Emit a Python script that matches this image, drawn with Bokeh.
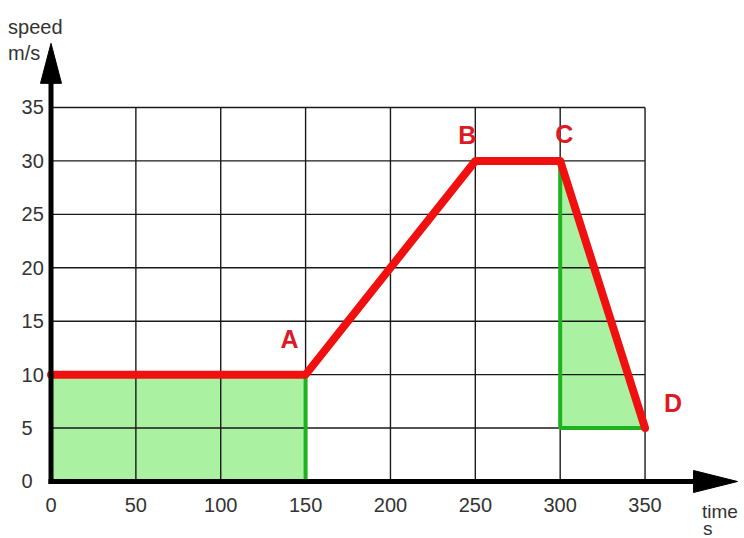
from bokeh.plotting import figure
from bokeh.models import Range1d
from bokeh.embed import file_html
from bokeh.resources import INLINE
from bokeh.core.properties import value

# ---------------- data ----------------
time_s = [0, 150, 250, 300, 350]
speed_ms = [10, 10, 30, 30, 5]
point_names = ["A", "B", "C", "D"]          # labels of points 1..4
x_ticks = [0, 50, 100, 150, 200, 250, 300, 350]
y_ticks = [0, 5, 10, 15, 20, 25, 30, 35]
x_tick_labels = ["0", "50", "100", "150", "200", "250", "300", "350"]
y_tick_labels = ["0", "5", "10", "15", "20", "25", "30", "35"]
x_title = ["time", "s"]
y_title = ["speed", "m/s"]

# ---------------- layout ----------------
W, H = 744, 538
X_START, X_END = -29.76, 408.6
Y_START, Y_END = -5.334, 45.01
SX = W / (X_END - X_START)      # px per second
SY = H / (Y_END - Y_START)      # px per m/s

FONT = value("Liberation Sans")
RED = "#f01010"
LABEL_RED = "#dc1a24"
GREEN_FILL = "#aaf2a2"
GREEN_LINE = "#1db31d"
TICK_COLOR = "#333333"

p = figure(width=W, height=H, output_backend="svg", toolbar_location=None,
           x_axis_location=None, y_axis_location=None, title=None,
           x_range=Range1d(X_START, X_END), y_range=Range1d(Y_START, Y_END),
           min_border=0, min_border_left=0, min_border_right=0,
           min_border_top=0, min_border_bottom=0)
p.outline_line_color = None
p.background_fill_color = "white"
p.border_fill_color = "white"
for g in p.grid:
    g.visible = False
p.xgrid.grid_line_color = None
p.ygrid.grid_line_color = None

xmax, ymax = x_ticks[-1], y_ticks[-1]

# ---------------- shaded areas ----------------
# rectangle under the first (constant speed) segment
rect_x = [time_s[0], time_s[0], time_s[1], time_s[1]]
rect_y = [0, speed_ms[0], speed_ms[1], 0]
p.patch(rect_x, rect_y, fill_color=GREEN_FILL, line_color=None)
# triangle under the deceleration segment
tri_x = [time_s[3], time_s[4], time_s[3]]
tri_y = [speed_ms[3], speed_ms[4], speed_ms[4]]
p.patch(tri_x, tri_y, fill_color=GREEN_FILL, line_color=None)

# ---------------- grid ----------------
p.segment(x0=x_ticks[1:], y0=[0] * (len(x_ticks) - 1),
          x1=x_ticks[1:], y1=[ymax] * (len(x_ticks) - 1),
          line_color="#1a1a1a", line_width=1.4)
p.segment(x0=[0] * (len(y_ticks) - 1), y0=y_ticks[1:],
          x1=[xmax] * (len(y_ticks) - 1), y1=y_ticks[1:],
          line_color="#1a1a1a", line_width=1.4)

# ---------------- green edges ----------------
p.line([time_s[1], time_s[1]], [0, speed_ms[1]], line_color=GREEN_LINE, line_width=4)
p.line([time_s[3], time_s[3], time_s[4]], [speed_ms[3], speed_ms[4], speed_ms[4]],
       line_color=GREEN_LINE, line_width=4)

# ---------------- speed-time line ----------------
p.line(time_s, speed_ms, line_color=RED, line_width=8,
       line_join="round", line_cap="round")

# ---------------- axes with arrows ----------------
AXIS_W = 5
Y_TIP = 41.0
X_TIP = 404.5
yhead_len, yhead_half = 40 / SY, 10.5 / SX
xhead_len, xhead_half = 44 / SX, 11 / SY
p.line([0, 0], [-AXIS_W / 2 / SY, Y_TIP - yhead_len + 0.5], line_color="black",
       line_width=AXIS_W)
p.line([-AXIS_W / 2 / SX, X_TIP - xhead_len + 0.5], [0, 0], line_color="black",
       line_width=AXIS_W)
p.patch([0 - yhead_half, 0, 0 + yhead_half], [Y_TIP - yhead_len, Y_TIP, Y_TIP - yhead_len],
        fill_color="black", line_color="black", line_width=1)
p.patch([X_TIP - xhead_len, X_TIP, X_TIP - xhead_len], [-xhead_half, 0, xhead_half],
        fill_color="black", line_color="black", line_width=1)

# ---------------- tick labels ----------------
p.text(x=x_ticks, y=[0] * len(x_ticks), text=x_tick_labels,
       text_font=FONT, text_font_size="20px", text_color=TICK_COLOR,
       text_align="center", text_baseline="middle", y_offset=24)
p.text(x=[0] * len(y_ticks), y=y_ticks, text=y_tick_labels,
       text_font=FONT, text_font_size="20px", text_color=TICK_COLOR,
       text_align="left", text_baseline="middle", x_offset=-29.5)

# ---------------- axis titles ----------------
p.text(x=[0, 0], y=[Y_TIP, Y_TIP], text=y_title,
       text_font=FONT, text_font_size="20px", text_color=TICK_COLOR,
       text_align="left", text_baseline="alphabetic",
       x_offset=-43, y_offset=[-16, 10])
p.text(x=[xmax, xmax], y=[0, 0], text=x_title,
       text_font=FONT, text_font_size="19px", text_color=TICK_COLOR,
       text_align="left", text_baseline="alphabetic",
       x_offset=[57, 58], y_offset=[30, 47])

# ---------------- point labels ----------------
p.text(x=time_s[1:], y=speed_ms[1:], text=point_names,
       text_font=FONT, text_font_size="25px", text_font_style="bold",
       text_color=LABEL_RED, text_align="center", text_baseline="middle",
       x_offset=[-16, -8, 4, 28], y_offset=[-36, -26, -27, -25])

open("out.html", "w").write(file_html(p, INLINE))
